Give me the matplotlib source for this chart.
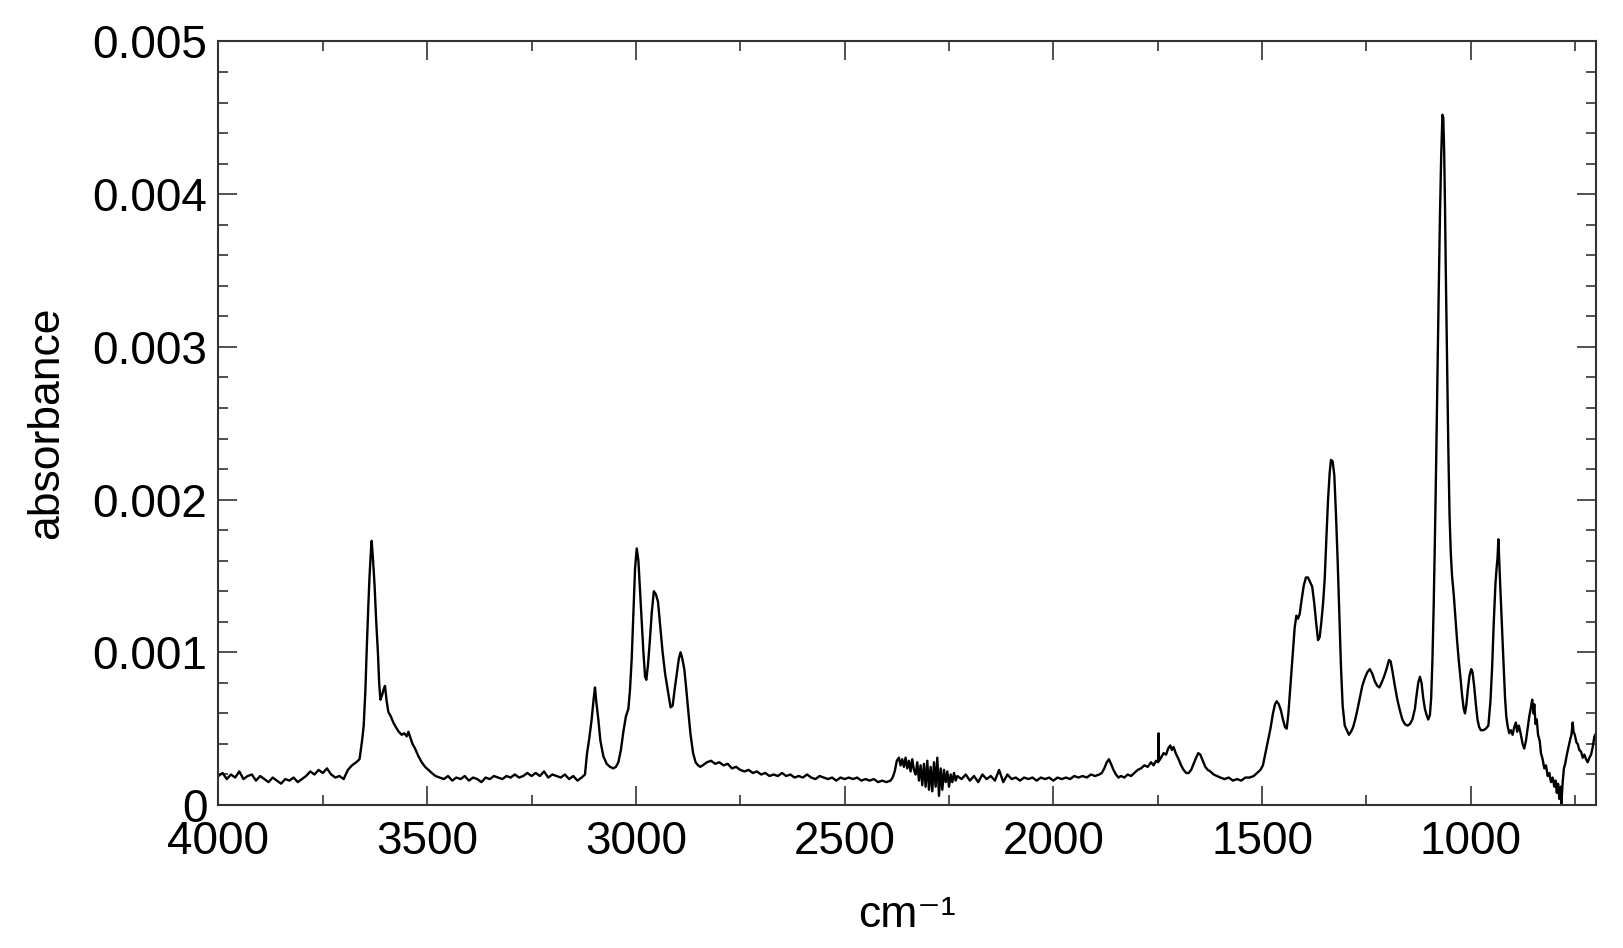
import numpy as np
import matplotlib
matplotlib.use("Agg")
import matplotlib.pyplot as plt
from matplotlib.ticker import MultipleLocator

plt.rcParams['font.family'] = ['Liberation Sans', 'DejaVu Sans']

# spectrum: (wavenumber cm-1, absorbance in 1e-4 units)
base_high = [(4000, 1.9), (3990, 2.1), (3980, 1.7), (3970, 2.0), (3960, 1.8), (3950, 2.2),
             (3940, 1.7), (3930, 1.9), (3920, 2.0), (3910, 1.6), (3900, 1.9), (3890, 1.7),
             (3880, 1.5), (3870, 1.8), (3860, 1.6), (3850, 1.4), (3840, 1.7), (3830, 1.6),
             (3820, 1.8), (3810, 1.5), (3800, 1.7), (3790, 1.9), (3780, 2.2), (3770, 2.0),
             (3760, 2.3), (3750, 2.1), (3740, 2.4), (3730, 2.0), (3720, 1.8), (3710, 1.9),
             (3700, 1.7), (3690, 2.3), (3680, 2.6)]

oh_band = [(3670, 2.8), (3662, 3.0), (3656, 4.2), (3652, 5.2), (3648, 7.5), (3645, 10.0),
           (3641, 13.0), (3638, 15.0), (3635, 16.5), (3633, 17.3), (3630, 16.2), (3626, 14.4),
           (3622, 12.0), (3618, 10.0), (3615, 8.0), (3612, 6.9), (3608, 7.2), (3604, 7.6),
           (3601, 7.8), (3597, 6.8), (3593, 6.1), (3587, 5.8), (3581, 5.4), (3575, 5.1),
           (3568, 4.8), (3561, 4.6), (3555, 4.7), (3549, 4.5), (3545, 4.8), (3540, 4.4),
           (3535, 4.0), (3529, 3.7), (3521, 3.2), (3513, 2.8), (3505, 2.5), (3497, 2.3),
           (3489, 2.1), (3480, 1.9), (3470, 1.8)]

base_mid = [(3460, 1.7), (3450, 1.9), (3440, 1.6), (3430, 1.8), (3420, 1.7), (3410, 1.9),
            (3400, 1.6), (3390, 1.8), (3380, 1.7), (3370, 1.5), (3360, 1.8), (3350, 1.7),
            (3340, 1.9), (3330, 1.8), (3320, 1.7), (3310, 1.9), (3300, 1.8), (3290, 2.0),
            (3280, 1.8), (3270, 1.9), (3260, 2.1), (3250, 1.9), (3240, 2.1), (3230, 1.9),
            (3220, 2.2), (3210, 1.8), (3200, 2.0), (3190, 1.9), (3180, 1.8), (3170, 2.0),
            (3160, 1.7), (3150, 1.9), (3140, 1.6), (3130, 1.8)]

ch_band = [(3122, 2.0), (3117, 3.4), (3112, 4.3), (3106, 5.6), (3101, 7.0), (3098, 7.7),
           (3095, 6.8), (3090, 5.6), (3085, 4.2), (3078, 3.2), (3070, 2.7), (3062, 2.5),
           (3054, 2.4), (3048, 2.5), (3042, 2.8), (3036, 3.6), (3030, 4.8), (3024, 5.8),
           (3018, 6.3), (3014, 7.6), (3010, 9.6), (3006, 12.5), (3002, 15.5), (2998, 16.8),
           (2994, 16.0), (2990, 14.0), (2986, 12.0), (2982, 10.0), (2978, 8.4), (2975, 8.2),
           (2971, 9.2), (2967, 10.6), (2962, 12.6), (2957, 14.0), (2952, 13.8), (2947, 13.3),
           (2942, 11.8), (2936, 10.0), (2930, 8.6), (2923, 7.4), (2917, 6.4), (2912, 6.5),
           (2907, 7.6), (2902, 8.6), (2897, 9.6), (2893, 10.0), (2889, 9.6), (2884, 8.9),
           (2879, 7.5), (2874, 6.0), (2869, 4.6), (2863, 3.4), (2857, 2.8), (2851, 2.6),
           (2846, 2.5), (2840, 2.6)]

base_low = [(2830, 2.8), (2820, 2.9), (2810, 2.7), (2800, 2.8), (2790, 2.6), (2780, 2.7),
            (2770, 2.4), (2760, 2.5), (2750, 2.3), (2740, 2.2), (2730, 2.3), (2720, 2.1),
            (2710, 2.2), (2700, 2.0), (2690, 2.1), (2680, 1.9), (2670, 2.0), (2660, 1.9),
            (2650, 2.1), (2640, 1.9), (2630, 2.0), (2620, 1.8), (2610, 1.9), (2600, 1.8),
            (2590, 2.0), (2580, 1.8), (2570, 1.7), (2560, 1.9), (2550, 1.8), (2540, 1.7),
            (2530, 1.8), (2520, 1.6), (2510, 1.8), (2500, 1.7), (2490, 1.8), (2480, 1.7),
            (2470, 1.8), (2460, 1.6), (2450, 1.7), (2440, 1.6), (2430, 1.7), (2420, 1.5),
            (2410, 1.6), (2400, 1.5), (2390, 1.6)]

co2_band = [(2385, 1.8), (2380, 2.2), (2375, 2.9), (2370, 3.1), (2366, 2.6), (2362, 3.0),
            (2358, 2.5), (2354, 3.1), (2350, 2.4), (2346, 2.9), (2342, 2.2), (2338, 3.0),
            (2334, 2.3), (2330, 2.0), (2326, 2.8), (2322, 1.6), (2318, 2.6), (2314, 1.3),
            (2310, 2.7), (2306, 1.2), (2302, 2.9), (2298, 1.0), (2294, 2.5), (2290, 0.9),
            (2286, 2.8), (2282, 1.2), (2278, 3.1), (2274, 0.6), (2270, 2.4), (2266, 1.0),
            (2262, 2.3), (2258, 1.5), (2254, 2.2), (2250, 1.2), (2246, 2.0), (2242, 1.5),
            (2238, 2.1), (2234, 1.6), (2230, 1.9)]

base_flat = [(2220, 1.7), (2210, 2.0), (2200, 1.6), (2190, 1.9), (2180, 1.5), (2170, 2.0),
             (2160, 1.7), (2150, 1.9), (2140, 1.6), (2130, 2.3), (2120, 1.5), (2110, 2.0),
             (2100, 1.7), (2090, 1.8), (2080, 1.6), (2070, 1.8), (2060, 1.7), (2050, 1.8),
             (2040, 1.6), (2030, 1.8), (2020, 1.7), (2010, 1.8), (2000, 1.6), (1990, 1.8),
             (1980, 1.7), (1970, 1.8), (1960, 1.7), (1950, 1.9), (1940, 1.8), (1930, 1.9),
             (1920, 1.8), (1910, 2.0), (1900, 1.9), (1890, 2.0)]

mid_bands = [(1884, 2.1), (1878, 2.4), (1872, 2.8), (1867, 3.0), (1862, 2.7), (1856, 2.3),
             (1850, 2.0), (1844, 1.8), (1838, 1.9), (1830, 1.8), (1822, 2.0), (1814, 1.9),
             (1806, 2.1), (1798, 2.3), (1790, 2.4), (1782, 2.6), (1774, 2.5), (1766, 2.8),
             (1760, 2.6), (1754, 2.9), (1749, 2.8), (1748, 4.7), (1747, 2.9), (1742, 3.1),
             (1736, 3.4), (1730, 3.3), (1725, 3.7), (1720, 3.9), (1716, 3.6), (1712, 3.8),
             (1707, 3.4), (1700, 3.0), (1694, 2.6), (1688, 2.3), (1682, 2.1), (1676, 2.1),
             (1670, 2.3), (1664, 2.7), (1658, 3.1), (1653, 3.4), (1648, 3.3), (1642, 2.9),
             (1636, 2.5), (1630, 2.3), (1624, 2.2), (1616, 2.0), (1608, 1.9), (1600, 1.8),
             (1590, 1.7), (1580, 1.8), (1570, 1.6), (1560, 1.7), (1550, 1.6), (1540, 1.8),
             (1530, 1.8), (1520, 1.9), (1512, 2.1), (1504, 2.3), (1498, 2.6)]

fingerprint = [(1492, 3.4), (1486, 4.2), (1480, 5.0), (1474, 6.0), (1469, 6.6), (1465, 6.8),
               (1460, 6.6), (1455, 6.2), (1450, 5.6), (1445, 5.1), (1441, 5.0), (1437, 6.0),
               (1432, 7.9), (1427, 9.8), (1422, 11.6), (1418, 12.4), (1414, 12.2), (1410, 12.5),
               (1405, 13.5), (1400, 14.4), (1395, 14.9), (1390, 14.9), (1385, 14.6), (1380, 14.3),
               (1375, 13.2), (1370, 11.8), (1366, 10.8), (1362, 11.0), (1358, 12.0), (1354, 13.2),
               (1350, 14.8), (1346, 17.5), (1342, 20.0), (1338, 21.8), (1335, 22.6), (1331, 22.5),
               (1327, 21.6), (1323, 19.0), (1319, 16.0), (1315, 12.5), (1311, 9.0), (1307, 6.5),
               (1302, 5.2), (1297, 4.9), (1292, 4.6), (1287, 4.8), (1282, 5.1), (1277, 5.6),
               (1272, 6.2), (1266, 7.0), (1260, 7.8), (1254, 8.3), (1248, 8.7), (1242, 8.9),
               (1236, 8.6), (1230, 8.1), (1224, 7.8), (1219, 7.7), (1214, 8.0), (1208, 8.4),
               (1202, 8.9), (1196, 9.5), (1192, 9.4), (1188, 8.8), (1182, 7.8), (1176, 6.9),
               (1170, 6.2), (1164, 5.6), (1158, 5.3), (1152, 5.2), (1146, 5.3), (1140, 5.6),
               (1134, 6.3), (1130, 7.2), (1126, 8.0), (1122, 8.4), (1118, 8.0), (1114, 7.0),
               (1110, 6.3), (1106, 5.9), (1102, 5.6), (1098, 5.9), (1095, 7.0), (1092, 9.5),
               (1089, 13.0), (1086, 17.5), (1083, 22.5), (1080, 28.0), (1077, 33.5), (1074, 38.5),
               (1071, 42.5), (1068, 45.2), (1066, 45.0), (1064, 43.0), (1062, 39.5), (1060, 35.0),
               (1057, 29.0), (1054, 23.5), (1051, 19.0), (1048, 16.5), (1045, 15.0), (1041, 13.8),
               (1037, 12.3), (1033, 10.8), (1029, 9.5), (1025, 8.4), (1021, 7.2), (1017, 6.3),
               (1014, 6.0), (1011, 6.5), (1007, 7.6), (1003, 8.5), (999, 8.9), (996, 8.7),
               (992, 7.8), (988, 6.6), (984, 5.6), (980, 5.1), (976, 4.9), (970, 4.9),
               (964, 5.0), (958, 5.2), (953, 6.8), (949, 9.0), (945, 12.0), (941, 14.5),
               (938, 15.6), (936, 16.2), (934, 17.4), (932, 16.0), (929, 14.0), (926, 12.0),
               (922, 9.5), (918, 7.0), (915, 5.8), (912, 5.2), (908, 4.7), (904, 4.9),
               (900, 4.6), (896, 5.1), (892, 5.4), (889, 4.8), (885, 5.2), (880, 4.6),
               (876, 4.0), (872, 3.7), (868, 4.2), (864, 5.0), (860, 5.8), (856, 6.4),
               (853, 6.9), (850, 6.0), (848, 6.6), (845, 5.3), (842, 5.6), (839, 4.6),
               (835, 4.2), (832, 3.4), (828, 3.0), (824, 2.4), (820, 2.6), (816, 1.9),
               (812, 2.1), (808, 1.5), (804, 1.8), (800, 1.2), (797, 1.6), (794, 0.8),
               (791, 1.4), (788, 0.4), (785, 1.2), (783, 0.1), (780, 1.5), (777, 2.4),
               (774, 2.7), (770, 3.3), (766, 3.8), (762, 4.3), (759, 4.6), (756, 5.4),
               (754, 4.8), (751, 4.6), (747, 4.1), (744, 4.0), (740, 3.6), (736, 3.5),
               (732, 3.1), (728, 3.3), (724, 3.0), (720, 2.8), (716, 3.1), (712, 3.3),
               (708, 3.8), (704, 4.5), (700, 4.7)]

regions = [base_high, oh_band, base_mid, ch_band, base_low, co2_band,
           base_flat, mid_bands, fingerprint]
pts = np.array([p for r in regions for p in r])
wavenumber = pts[:, 0]
absorbance = pts[:, 1] * 1e-4

fig = plt.figure(figsize=(16.24, 9.48), dpi=100)
ax = fig.add_axes([0.1345, 0.1508, 0.8483, 0.8055])
ax.plot(wavenumber, absorbance, color='black', lw=1.7)

ax.set_xlim(4000, 700)
ax.set_ylim(0, 0.005)
ax.xaxis.set_major_locator(MultipleLocator(500))
ax.xaxis.set_minor_locator(MultipleLocator(250))
ax.yaxis.set_minor_locator(MultipleLocator(0.0002))
ax.set_yticks([0, 0.001, 0.002, 0.003, 0.004, 0.005])
ax.set_yticklabels(['0', '0.001', '0.002', '0.003', '0.004', '0.005'])

ax.tick_params(which='both', direction='in', top=True, right=True,
               labelsize=33, width=1.2, color='#333333')
ax.tick_params(which='major', length=14)
ax.tick_params(which='minor', length=7)
ax.tick_params(axis='y', pad=8)
ax.tick_params(axis='x', pad=11)
for s in ax.spines.values():
    s.set_linewidth(1.5)
    s.set_color('#333333')

ax.set_xlabel('cm⁻¹', fontsize=32, labelpad=22)
ax.set_ylabel('absorbance', fontsize=32, labelpad=18)

fig.savefig('out.png', dpi=100)
